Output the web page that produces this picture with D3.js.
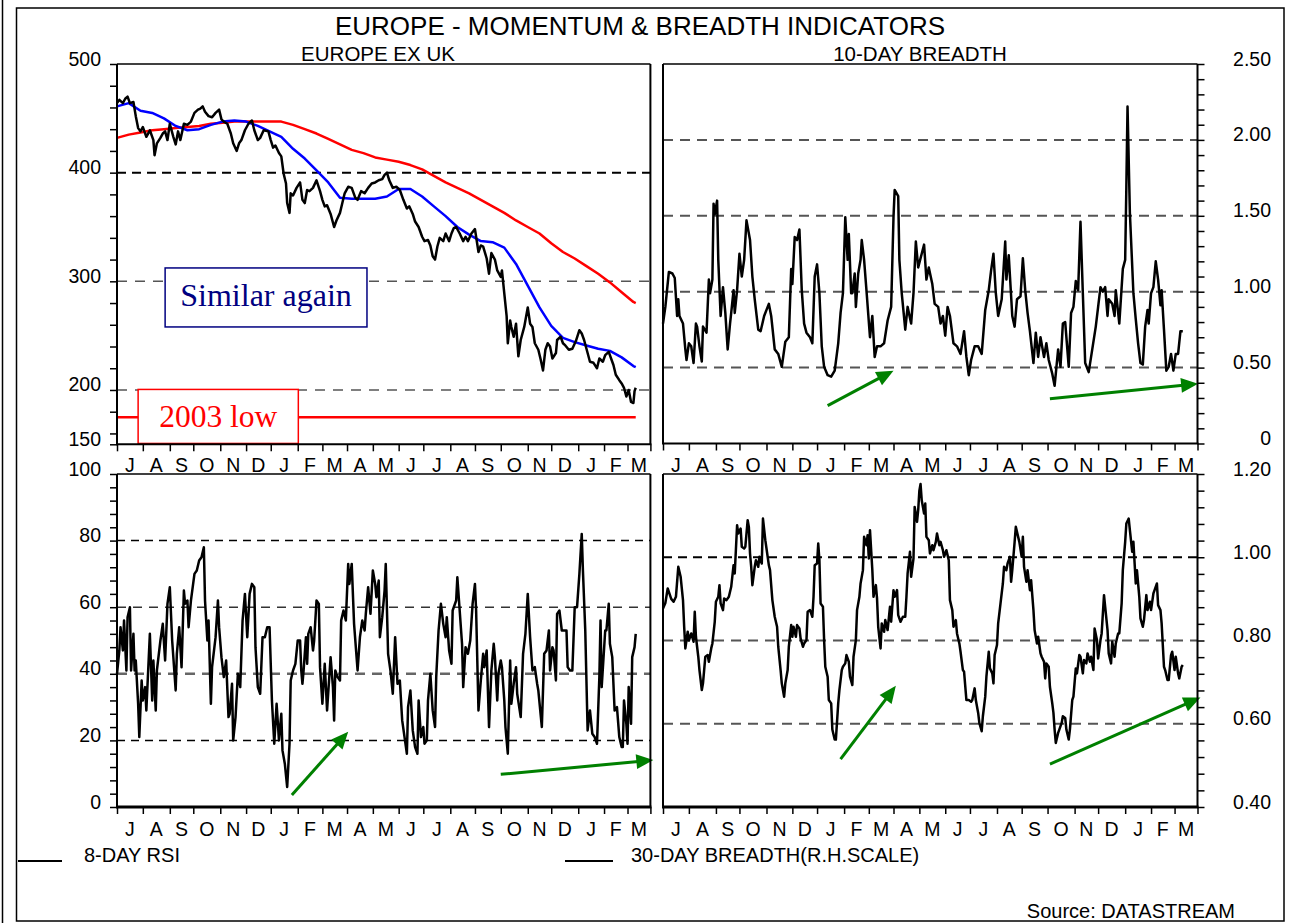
<!DOCTYPE html>
<html><head><meta charset="utf-8">
<script src="https://cdn.jsdelivr.net/npm/d3@7"></script>
<style>
body{margin:0;background:#fff;}
svg{display:block;font-family:"Liberation Sans",Arial,Helvetica,sans-serif;}
</style></head><body>
<svg id="chart" width="1294" height="923"></svg>
<script>
// ---------------- DATA (x = trading day counted from 2 Jul 2007) ----------------
const monthLetters = ["J","A","S","O","N","D","J","F","M","A","M","J","J","A","S","O","N","D","J","F","M"];
const priceLabels = [150,200,300,400,500];
const breadth10Labels = [0,0.5,1.0,1.5,2.0,2.5];
const rsiLabels = [0,20,40,60,80,100];
const breadth30Labels = [0.4,0.6,0.8,1.0,1.2];
const low2003 = 175;

// Europe ex UK price index (black)
const europeExUK = [[0,464],[2,467],[5,464],[7,468],[9,470],[11,464],[14,465],[16,452],[18,441],[20,438],[22,442],[25,433],[28,439],[31,430],[32,416],[34,427],[37,432],[39,436],[41,438],[43,430],[45,445],[48,433],[50,426],[52,438],[54,430],[57,445],[60,444],[63,447],[66,455],[69,458],[71,459],[73,461],[75,456],[78,452],[81,451],[84,455],[87,458],[89,449],[91,447],[94,445],[97,436],[99,427],[102,420],[104,427],[106,430],[109,439],[112,445],[115,448],[117,439],[120,430],[122,432],[125,439],[129,438],[131,430],[133,423],[135,425],[138,418],[140,415],[142,399],[144,390],[145,372],[147,363],[148,381],[150,379],[153,386],[156,391],[158,375],[160,372],[162,384],[164,383],[167,386],[170,393],[173,383],[175,375],[177,369],[179,370],[182,362],[185,350],[187,356],[190,363],[192,372],[194,381],[197,387],[200,386],[203,377],[205,375],[208,383],[211,381],[214,386],[217,390],[220,391],[223,393],[226,394],[228,398],[230,400],[232,393],[235,386],[238,387],[241,384],[244,375],[247,367],[249,369],[252,362],[254,355],[257,350],[260,341],[262,337],[265,338],[267,333],[269,323],[271,320],[273,332],[275,340],[278,337],[280,344],[283,337],[285,344],[287,349],[289,350],[292,344],[295,337],[297,341],[299,337],[302,344],[305,348],[306,341],[308,327],[310,333],[312,332],[315,321],[317,307],[319,326],[322,320],[324,310],[327,304],[328,310],[330,289],[332,268],[333,243],[335,264],[336,258],[338,249],[340,261],[342,231],[344,246],[347,258],[350,276],[352,261],[354,258],[356,243],[359,237],[361,228],[363,218],[365,237],[367,243],[369,240],[371,229],[374,234],[375,246],[378,249],[380,243],[382,241],[385,237],[388,238],[391,245],[394,255],[396,252],[398,246],[401,234],[403,226],[406,225],[409,220],[411,229],[414,226],[416,232],[419,235],[421,229],[423,223],[425,214],[428,209],[430,206],[432,202],[434,194],[436,200],[438,189],[440,188],[441,199],[442,202]];

// moving averages (blue = short, red = long)
const maShort = [[0,461],[10,464],[20,457],[30,455],[40,450],[50,443],[60,439],[70,440],[80,444],[90,447],[100,448],[110,447],[120,443],[130,438],[140,433],[150,422],[160,413],[170,402],[180,391],[190,377],[200,376],[210,376],[220,376],[230,378],[240,385],[250,385],[260,378],[270,369],[280,360],[290,350],[300,343],[310,337],[320,336],[330,331],[340,316],[350,296],[360,276],[370,259],[380,248],[390,244],[400,241],[410,238],[420,236],[430,230],[440,222],[442,221]];
const maLong = [[0,432],[10,435],[20,437],[30,439],[40,440],[50,441],[60,442],[70,443],[80,445],[90,446],[100,447],[110,447],[120,447],[130,447],[140,447],[150,444],[160,440],[170,436],[180,431],[190,426],[200,421],[210,418],[220,414],[230,412],[240,410],[250,407],[260,403],[270,397],[280,391],[290,386],[300,381],[310,375],[320,369],[330,363],[340,356],[350,350],[360,344],[370,335],[380,327],[390,321],[400,314],[410,307],[420,299],[430,290],[440,281],[442,280]];

// 10-day breadth
const breadth10 = [[0,0.79],[2,0.90],[5,1.13],[8,1.12],[10,1.09],[12,0.84],[13,0.95],[14,0.84],[17,0.79],[19,0.62],[20,0.55],[22,0.66],[24,0.64],[26,0.53],[28,0.79],[29,0.77],[31,0.64],[33,0.54],[34,0.77],[37,0.73],[39,1.08],[40,0.99],[42,1.08],[43,1.58],[44,1.51],[46,1.60],[47,1.21],[49,0.84],[51,1.03],[53,0.86],[55,0.62],[57,0.79],[58,0.86],[60,1.01],[61,0.86],[63,1.01],[65,1.25],[67,1.10],[69,1.21],[71,1.47],[74,1.34],[76,1.10],[78,0.95],[81,0.75],[83,0.74],[86,0.84],[89,0.90],[90,0.92],[92,0.84],[95,0.62],[98,0.59],[101,0.505],[104,0.67],[107,0.70],[109,1.15],[110,1.05],[112,1.36],[114,1.34],[116,1.41],[118,1.01],[120,0.79],[122,0.73],[125,0.70],[127,0.66],[129,1.10],[131,1.18],[133,0.99],[135,0.64],[137,0.505],[140,0.45],[143,0.44],[146,0.48],[149,0.66],[151,0.86],[153,0.99],[155,1.49],[157,1.21],[158,1.38],[160,0.99],[161,0.99],[163,1.12],[164,0.90],[166,1.12],[168,1.21],[169,1.34],[171,1.21],[173,1.01],[176,0.70],[178,0.84],[180,0.57],[182,0.64],[185,0.64],[188,0.66],[191,0.81],[194,0.90],[196,1.49],[197,1.67],[200,1.63],[201,1.21],[203,0.99],[206,0.75],[208,0.90],[211,0.79],[213,0.99],[215,1.33],[217,1.16],[220,1.25],[222,1.31],[224,1.08],[226,1.16],[229,1.05],[231,0.92],[234,0.90],[236,0.79],[238,0.84],[240,0.71],[242,0.90],[244,0.84],[247,0.66],[250,0.64],[253,0.59],[256,0.74],[258,0.57],[260,0.45],[262,0.55],[265,0.64],[268,0.64],[271,0.59],[274,0.88],[277,1.01],[279,1.14],[281,1.25],[283,0.99],[285,0.84],[288,0.95],[291,1.33],[292,1.08],[294,1.24],[297,0.84],[299,0.77],[301,0.95],[304,0.97],[306,1.22],[308,1.01],[310,0.86],[312,0.74],[315,0.53],[317,0.73],[319,0.57],[321,0.70],[324,0.57],[326,0.66],[328,0.55],[331,0.46],[333,0.38],[336,0.62],[338,0.505],[340,0.79],[342,0.80],[345,0.505],[347,0.86],[349,0.90],[351,1.07],[353,1.01],[355,1.46],[357,0.99],[359,0.53],[362,0.47],[365,0.62],[368,0.77],[370,0.90],[372,1.03],[374,1.00],[376,1.03],[378,0.84],[379,0.95],[382,0.92],[384,0.84],[385,1.01],[388,0.79],[391,1.15],[393,1.21],[394,1.69],[395,2.22],[397,1.52],[400,0.99],[402,0.82],[404,0.66],[406,0.53],[408,0.52],[410,0.77],[412,0.88],[413,0.79],[415,0.99],[417,1.03],[419,1.20],[421,1.08],[423,0.91],[424,1.01],[426,0.75],[428,0.48],[430,0.505],[432,0.59],[434,0.48],[436,0.59],[438,0.59],[440,0.74],[442,0.74]];

// 8-day RSI
const rsi8 = [[0,40],[2,47],[3,54],[5,47],[6,56],[8,41],[9,57],[11,60],[12,41],[14,52],[15,41],[16,44],[18,31],[19,21],[21,38],[22,32],[24,36],[25,29],[28,52],[30,32],[31,44],[33,29],[34,41],[37,50],[39,55],[41,44],[43,61],[45,66],[47,50],[50,35],[51,46],[53,54],[55,42],[57,65],[58,61],[60,62],[61,54],[63,62],[66,70],[68,71],[70,74],[72,75],[74,78],[75,62],[77,50],[78,56],[80,31],[81,42],[84,51],[86,62],[87,54],[89,45],[91,39],[93,44],[95,27],[96,28],[98,37],[99,20],[101,27],[103,40],[105,36],[107,56],[109,64],[111,51],[113,64],[115,67],[117,66],[118,48],[120,36],[122,34],[124,51],[126,51],[128,54],[130,54],[132,32],[134,19],[136,31],[138,20],[140,28],[141,17],[143,13],[145,6],[147,19],[148,38],[150,41],[152,43],[154,50],[156,50],[157,41],[158,37],[159,41],[161,51],[162,43],[163,52],[165,54],[167,47],[168,50],[170,62],[172,61],[173,42],[175,31],[177,43],[179,29],[182,45],[184,36],[185,26],[186,41],[188,39],[190,38],[191,56],[193,59],[195,56],[197,73],[198,67],[200,73],[202,55],[205,41],[207,51],[209,56],[211,53],[212,58],[214,66],[216,58],[218,71],[220,67],[221,63],[223,68],[224,51],[226,57],[228,65],[229,73],[231,46],[233,41],[235,34],[237,51],[239,37],[241,38],[243,26],[245,21],[247,16],[248,30],[250,35],[252,23],[254,18],[256,16],[257,32],[259,21],[261,24],[262,19],[264,20],[265,32],[267,40],[269,29],[271,24],[272,39],[274,53],[276,61],[278,55],[280,51],[281,57],[283,47],[285,43],[286,59],[289,62],[290,69],[292,59],[294,49],[295,36],[297,48],[299,46],[301,50],[303,61],[305,67],[306,59],[308,29],[310,38],[312,46],[313,42],[315,47],[317,24],[319,41],[321,49],[322,45],[324,32],[325,40],[327,44],[328,42],[330,32],[331,24],[333,16],[335,44],[336,31],[338,37],[340,42],[341,34],[344,27],[346,46],[348,52],[350,64],[352,51],[354,41],[356,42],[358,37],[359,35],[362,24],[364,46],[366,47],[368,53],[369,41],[371,48],[372,47],[374,38],[375,58],[377,59],[379,53],[381,53],[383,53],[384,42],[386,41],[388,41],[390,60],[392,60],[394,70],[396,82],[397,71],[399,53],[401,23],[403,29],[405,22],[407,21],[409,19],[411,39],[412,56],[413,36],[416,53],[417,53],[419,61],[420,49],[422,45],[424,29],[426,30],[428,21],[430,18],[431,18],[432,32],[434,25],[435,19],[436,36],[438,25],[439,45],[441,48],[442,52]];

// 30-day breadth (R.H. scale)
const breadth30 = [[0,0.877],[2,0.89],[4,0.925],[7,0.90],[9,0.893],[11,0.905],[13,0.977],[15,0.953],[17,0.897],[18,0.833],[19,0.781],[21,0.821],[22,0.80],[24,0.817],[26,0.797],[27,0.869],[28,0.809],[30,0.761],[31,0.729],[33,0.681],[34,0.697],[36,0.761],[38,0.765],[39,0.749],[41,0.781],[42,0.793],[44,0.845],[45,0.893],[47,0.905],[48,0.933],[49,0.889],[51,0.873],[52,0.901],[54,0.897],[56,0.905],[58,0.929],[60,0.981],[61,0.961],[63,1.077],[64,1.057],[66,1.069],[67,1.025],[69,1.021],[70,1.025],[72,1.089],[73,1.073],[74,1.009],[75,0.977],[76,0.933],[78,0.977],[79,0.993],[81,0.977],[82,1.001],[84,0.985],[85,1.093],[87,1.041],[88,1.021],[90,0.981],[91,0.969],[93,0.897],[95,0.857],[97,0.833],[98,0.785],[100,0.729],[101,0.697],[103,0.665],[104,0.697],[106,0.729],[107,0.785],[109,0.837],[110,0.809],[111,0.833],[113,0.809],[114,0.837],[116,0.829],[117,0.805],[119,0.785],[120,0.793],[122,0.801],[123,0.869],[125,0.873],[127,0.857],[128,0.905],[129,0.981],[131,0.985],[132,1.033],[133,0.993],[134,0.889],[136,0.881],[137,0.801],[138,0.737],[140,0.713],[141,0.657],[143,0.649],[144,0.586],[146,0.562],[147,0.562],[149,0.649],[150,0.681],[152,0.729],[153,0.737],[155,0.745],[156,0.765],[158,0.749],[159,0.713],[161,0.693],[162,0.761],[164,0.801],[165,0.873],[167,0.905],[168,0.937],[170,0.969],[171,1.049],[173,1.029],[174,1.053],[175,0.997],[176,1.065],[178,0.969],[179,0.905],[181,0.933],[182,0.901],[183,0.833],[185,0.781],[186,0.841],[188,0.821],[189,0.849],[191,0.825],[193,0.881],[194,0.845],[196,0.921],[197,0.905],[199,0.921],[200,0.861],[202,0.845],[204,0.857],[206,0.857],[207,0.905],[208,0.961],[210,1.013],[211,0.953],[213,0.997],[214,1.121],[216,1.085],[217,1.113],[218,1.160],[219,1.176],[220,1.137],[222,1.105],[223,1.129],[224,1.049],[226,1.041],[227,1.009],[229,1.029],[230,1.017],[232,1.037],[233,1.057],[235,1.029],[236,1.037],[238,1.017],[239,1.001],[241,1.017],[243,0.993],[244,0.897],[246,0.873],[247,0.833],[249,0.849],[250,0.817],[252,0.793],[253,0.773],[255,0.729],[256,0.725],[258,0.657],[260,0.657],[262,0.653],[263,0.657],[265,0.685],[266,0.657],[268,0.626],[269,0.602],[271,0.582],[272,0.618],[274,0.665],[275,0.713],[277,0.773],[278,0.733],[280,0.721],[281,0.697],[282,0.765],[284,0.789],[285,0.841],[287,0.889],[289,0.937],[290,0.977],[292,0.969],[293,0.985],[295,1.001],[296,0.941],[297,0.969],[299,1.037],[300,1.073],[302,1.049],[303,1.037],[305,1.001],[306,1.049],[307,0.977],[309,0.941],[310,0.969],[312,0.921],[313,0.945],[315,0.873],[316,0.825],[318,0.793],[319,0.809],[321,0.769],[322,0.761],[324,0.749],[325,0.709],[326,0.745],[328,0.737],[329,0.689],[331,0.649],[332,0.626],[333,0.586],[334,0.554],[336,0.578],[337,0.586],[339,0.602],[340,0.618],[342,0.614],[343,0.586],[345,0.562],[346,0.586],[348,0.657],[349,0.665],[351,0.733],[352,0.721],[354,0.765],[355,0.761],[357,0.721],[358,0.753],[360,0.745],[361,0.769],[363,0.749],[364,0.761],[366,0.729],[367,0.829],[369,0.801],[370,0.757],[372,0.801],[373,0.817],[375,0.909],[376,0.881],[378,0.825],[379,0.769],[381,0.745],[382,0.797],[384,0.761],[385,0.793],[387,0.817],[388,0.817],[390,0.889],[391,0.969],[393,1.037],[394,1.081],[396,1.093],[397,1.065],[399,1.013],[400,1.037],[402,0.937],[403,0.969],[405,0.905],[406,0.853],[408,0.833],[409,0.849],[411,0.909],[412,0.873],[414,0.893],[415,0.873],[417,0.913],[418,0.921],[420,0.937],[421,0.885],[423,0.873],[424,0.841],[426,0.737],[427,0.729],[429,0.705],[430,0.705],[432,0.765],[433,0.773],[435,0.729],[436,0.761],[438,0.721],[439,0.709],[441,0.737],[442,0.741]];

// green trend arrows: [dayStart, valueStart, dayEnd, valueEnd]
const arrowsB10 = [[140,0.25,196,0.48],[329,0.295,455,0.394]];
const arrowsRsi = [[149,3.6,197,22.6],[327,9.8,457,14.1]];
const arrowsB30 = [[151,0.515,198,0.691],[329,0.503,457,0.663]];

// ---------------- helpers ----------------
const ORIGIN = new Date(2007,6,2);
function tradingDay(date){
  let n=0;
  for(let d=new Date(ORIGIN); d<date; d.setDate(d.getDate()+1)){
    const w=d.getDay(); if(w!==0&&w!==6) n++;
  }
  return n;
}
const X_END = 454.5;
const monthStarts = d3.timeMonth.range(new Date(2007,6,1), new Date(2009,3,1));
const monthTicks = monthStarts.map(tradingDay).concat([X_END]);

const svg = d3.select("#chart");
const LW = 2.5;

const xL = d3.scaleLinear().domain([0,X_END]).range([117,650.4]);
const xR = d3.scaleLinear().domain([0,X_END]).range([663,1197.5]);
const yPrice = d3.scaleLinear().domain([150,500]).range([444.3,64]);
const yB10 = d3.scaleLinear().domain([0,2.5]).range([443.5,64]);
const yRsi = d3.scaleLinear().domain([0,100]).range([807,474]);
const yB30 = d3.scaleLinear().domain([0.4,1.2]).range([807,474]);

// outer frame
svg.append("line").attr("x1",2.5).attr("x2",2.5).attr("y1",0).attr("y2",923).attr("stroke","#000").attr("stroke-width",1.5);
svg.append("rect").attr("x",16.5).attr("y",8).attr("width",1284-16.5).attr("height",921-8)
  .attr("fill","none").attr("stroke","#000").attr("stroke-width",1.5);

// title
svg.append("text").attr("x",640).attr("y",35).attr("text-anchor","middle")
  .attr("font-size",26).text("EUROPE - MOMENTUM & BREADTH INDICATORS");
svg.append("text").attr("x",378).attr("y",61).attr("text-anchor","middle").attr("font-size",20.5).text("EUROPE EX UK");
svg.append("text").attr("x",920).attr("y",61).attr("text-anchor","middle").attr("font-size",20.5).text("10-DAY BREADTH");

function grid(x,y,v,color,w,dash){
  svg.append("line").attr("x1",x.range()[0]).attr("x2",x.range()[1])
    .attr("y1",y(v)).attr("y2",y(v)).attr("stroke",color).attr("stroke-width",w).attr("stroke-dasharray",dash);
}
function series(x,y,data,color,w){
  svg.append("path").datum(data).attr("fill","none").attr("stroke",color).attr("stroke-width",w)
    .attr("stroke-linejoin","round")
    .attr("d",d3.line().x(d=>x(d[0])).y(d=>y(d[1])));
}
function frame(x,y,bottomW){
  const [x0,x1]=x.range(), [y1,y0]=y.range();
  svg.append("line").attr("x1",x0).attr("x2",x1).attr("y1",y0).attr("y2",y0).attr("stroke","#000").attr("stroke-width",1.5);
  svg.append("line").attr("x1",x0).attr("x2",x0).attr("y1",y0).attr("y2",y1).attr("stroke","#000").attr("stroke-width",2);
  svg.append("line").attr("x1",x1).attr("x2",x1).attr("y1",y0).attr("y2",y1).attr("stroke","#000").attr("stroke-width",2);
  svg.append("line").attr("x1",x0-1).attr("x2",x1+1).attr("y1",y1).attr("y2",y1).attr("stroke","#000").attr("stroke-width",bottomW);
}
function xAxis(x,y,labelY){
  const g=svg.append("g").attr("transform",`translate(0,${y.range()[0]})`)
    .call(d3.axisBottom(x).tickValues(monthTicks).tickSize(7).tickFormat(""));
  g.select(".domain").remove();
  g.selectAll(".tick line").attr("stroke-width",1.5);
  svg.append("g").selectAll("text").data(monthLetters).join("text")
    .attr("x",(d,i)=>x((monthTicks[i]+monthTicks[i+1])/2)).attr("y",labelY)
    .attr("text-anchor","middle").attr("font-size",19.5).text(d=>d);
}
function yAxis(x,y,side,minor,labels,fmt){
  const xpos = side==="left"? x.range()[0] : x.range()[1];
  const ax = side==="left"? d3.axisLeft(y) : d3.axisRight(y);
  const g=svg.append("g").attr("transform",`translate(${xpos},0)`)
    .call(ax.tickValues(minor).tickSize(7).tickFormat(""));
  g.select(".domain").remove();
  g.selectAll(".tick line").attr("stroke-width",1.5);
  svg.append("g").selectAll("text").data(labels).join("text")
    .attr("x", side==="left"? 101 : 1271).attr("y",d=>y(d)+1.5)
    .attr("text-anchor","end").attr("font-size",19.5).text(fmt);
}
function arrow(x,y,a){
  const x0=x(a[0]), y0=y(a[1]), x1=x(a[2]), y1=y(a[3]);
  const dx=x1-x0, dy=y1-y0, L=Math.hypot(dx,dy), ux=dx/L, uy=dy/L;
  const hl=17, hw=7.5;
  const bx=x1-ux*hl, by=y1-uy*hl;
  svg.append("line").attr("x1",x0).attr("y1",y0).attr("x2",bx+ux*2).attr("y2",by+uy*2)
    .attr("stroke","#008000").attr("stroke-width",3);
  svg.append("polygon").attr("fill","#008000")
    .attr("points",[[x1,y1],[bx-uy*hw,by+ux*hw],[bx+uy*hw,by-ux*hw]].map(p=>p.join(",")).join(" "));
}

// ---------- top-left: Europe ex UK ----------
grid(xL,yPrice,400,"#000",2,"9,6");
grid(xL,yPrice,300,"#555",1.5,"10,8");
grid(xL,yPrice,200,"#555",1.5,"10,8");
series(xL,yPrice,maLong,"#ff0000",LW);
series(xL,yPrice,maShort,"#0000ff",LW);
series(xL,yPrice,europeExUK,"#000",LW);
svg.append("line").attr("x1",xL(0)).attr("x2",xL(442)).attr("y1",yPrice(low2003)).attr("y2",yPrice(low2003))
  .attr("stroke","#ff0000").attr("stroke-width",2.5);
// annotation boxes
svg.append("rect").attr("x",xL(41)).attr("y",yPrice(312.3)).attr("width",xL(213)-xL(41)).attr("height",yPrice(258)-yPrice(312.3))
  .attr("fill","#fff").attr("stroke","#000080").attr("stroke-width",1.5);
svg.append("text").attr("x",(xL(41)+xL(213))/2).attr("y",306).attr("text-anchor","middle")
  .attr("font-family",'"Liberation Serif","Times New Roman",serif').attr("font-size",32).attr("fill","#000080").text("Similar again");
svg.append("rect").attr("x",xL(18)).attr("y",yPrice(200.5)).attr("width",xL(154.5)-xL(18)).attr("height",yPrice(150.8)-yPrice(200.5))
  .attr("fill","#fff").attr("stroke","#ff0000").attr("stroke-width",1.5);
svg.append("text").attr("x",(xL(18)+xL(154.5))/2).attr("y",427).attr("text-anchor","middle")
  .attr("font-family",'"Liberation Serif","Times New Roman",serif').attr("font-size",31.5).attr("fill","#ff0000").text("2003 low");
frame(xL,yPrice,2);
yAxis(xL,yPrice,"left",[150].concat(d3.range(160,501,20)),priceLabels,d=>d);
xAxis(xL,yPrice,471.5);

// ---------- top-right: 10-day breadth ----------
[2.0,1.5,1.0,0.5].forEach(v=>grid(xR,yB10,v,"#555",2,"10,7"));
series(xR,yB10,breadth10,"#000",LW);
arrowsB10.forEach(a=>arrow(xR,yB10,a));
frame(xR,yB10,2);
yAxis(xR,yB10,"right",d3.range(0,26).map(i=>i/10),breadth10Labels,d=>d===0?"0":d.toFixed(2));
xAxis(xR,yB10,471.5);

// ---------- bottom-left: 8-day RSI ----------
grid(xL,yRsi,80,"#000",1.5,"8,6");
grid(xL,yRsi,60,"#333",1.5,"9,7");
grid(xL,yRsi,40,"#666",2.5,"10,7");
grid(xL,yRsi,20,"#000",1.5,"8,6");
series(xL,yRsi,rsi8,"#000",LW);
arrowsRsi.forEach(a=>arrow(xL,yRsi,a));
frame(xL,yRsi,3);
yAxis(xL,yRsi,"left",d3.range(0,101,4),rsiLabels,d=>d);
xAxis(xL,yRsi,836);

// ---------- bottom-right: 30-day breadth ----------
grid(xR,yB30,1.0,"#000",2.2,"9,6");
grid(xR,yB30,0.8,"#555",2,"10,7");
grid(xR,yB30,0.6,"#555",2,"10,7");
series(xR,yB30,breadth30,"#000",LW);
arrowsB30.forEach(a=>arrow(xR,yB30,a));
frame(xR,yB30,3);
yAxis(xR,yB30,"right",d3.range(0,21).map(i=>0.4+i*0.04),breadth30Labels,d=>d.toFixed(2));
xAxis(xR,yB30,836);

// ---------- legend & source ----------
svg.append("line").attr("x1",18).attr("x2",62).attr("y1",861).attr("y2",861).attr("stroke","#000").attr("stroke-width",2);
svg.append("text").attr("x",84).attr("y",862).attr("font-size",20).text("8-DAY RSI");
svg.append("line").attr("x1",565).attr("x2",613).attr("y1",861).attr("y2",861).attr("stroke","#000").attr("stroke-width",2);
svg.append("text").attr("x",631).attr("y",862).attr("font-size",20).text("30-DAY BREADTH(R.H.SCALE)");
svg.append("text").attr("x",1235).attr("y",918).attr("text-anchor","end").attr("font-size",20).text("Source: DATASTREAM");
</script>
</body></html>
